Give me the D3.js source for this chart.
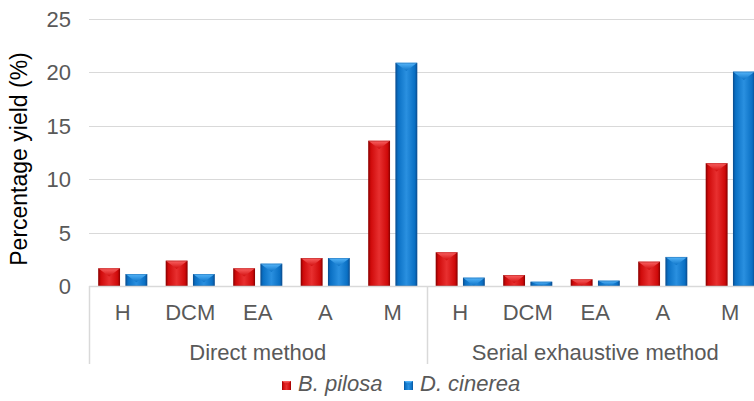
<!DOCTYPE html>
<html>
<head>
<meta charset="utf-8">
<script src="https://cdn.jsdelivr.net/npm/d3@7/dist/d3.min.js"></script>
<style>
  html, body { margin: 0; padding: 0; background: #fff; }
  svg { display: block; font-family: "Liberation Sans", Arial, sans-serif; }
</style>
</head>
<body>
<svg id="chart" width="754" height="401"></svg>
<script>
// Extraction yields by solvent, grouped by extraction procedure
const groups = ["Direct method", "Serial exhaustive method"];
const solvents = ["H", "DCM", "EA", "A", "M"];
const seriesNames = ["B. pilosa", "D. cinerea"];
const bPilosa = [1.66, 2.37, 1.66, 2.62, 13.6, 3.16, 1.03, 0.63, 2.28, 11.5];
const dCinerea = [1.12, 1.12, 2.09, 2.62, 20.9, 0.78, 0.40, 0.50, 2.72, 20.07];
const yTicks = [0, 5, 10, 15, 20, 25];

const svg = d3.select("#chart");
const W = 754;
const plotLeft = 89, plotRight = 764;
const y0 = 286, yTop = 19;
const fontSize = 22;

const cats = [];
groups.forEach((g, gi) => solvents.forEach(s => cats.push({ key: gi + "-" + s, group: g, gi, label: s })));

const x = d3.scaleBand().domain(cats.map(c => c.key)).range([plotLeft, plotRight]).paddingInner(0).paddingOuter(0);
const y = d3.scaleLinear().domain([0, 25]).range([y0, yTop]);
const sub = d3.scaleBand().domain(seriesNames).range([0, x.bandwidth()]).paddingInner(0.2).paddingOuter(0.34);

// gradients for the bevelled bars
const defs = svg.append("defs");
const palettes = {
  "B. pilosa": { dark: "#8e0000", mid: "#cf0a0a", light: "#e83030", cap: "#ff6a6a" },
  "D. cinerea": { dark: "#0b4f92", mid: "#0a70c4", light: "#2a90e0", cap: "#5cbcff" }
};
seriesNames.forEach((s, i) => {
  const p = palettes[s];
  const g = defs.append("linearGradient").attr("id", "g" + i).attr("x1", "0").attr("x2", "1").attr("y1", "0").attr("y2", "0");
  g.append("stop").attr("offset", "0").attr("stop-color", p.dark);
  g.append("stop").attr("offset", "0.12").attr("stop-color", p.mid);
  g.append("stop").attr("offset", "0.5").attr("stop-color", p.light);
  g.append("stop").attr("offset", "0.88").attr("stop-color", p.mid);
  g.append("stop").attr("offset", "1").attr("stop-color", p.dark);
  const c = defs.append("linearGradient").attr("id", "c" + i).attr("x1", "0").attr("x2", "0").attr("y1", "0").attr("y2", "1");
  c.append("stop").attr("offset", "0").attr("stop-color", p.cap);
  c.append("stop").attr("offset", "1").attr("stop-color", p.mid);
});

// horizontal gridlines
svg.append("g").selectAll("line").data(yTicks).join("line")
  .attr("x1", plotLeft).attr("x2", W)
  .attr("y1", d => Math.round(y(d)) + 0.5).attr("y2", d => Math.round(y(d)) + 0.5)
  .attr("stroke", "#d9d9d9").attr("stroke-width", 1);

// y axis labels
svg.append("g").selectAll("text").data(yTicks).join("text")
  .attr("x", 71).attr("y", d => y(d)).attr("dy", "0.36em")
  .attr("text-anchor", "end").attr("font-size", fontSize).attr("fill", "#595959")
  .text(d => d);

svg.append("text")
  .attr("transform", `translate(27,159) rotate(-90)`)
  .attr("text-anchor", "middle").attr("font-size", 23).attr("fill", "#000")
  .text("Percentage yield (%)");

// bars
const series = [bPilosa, dCinerea];
series.forEach((vals, si) => {
  const name = seriesNames[si];
  const g = svg.append("g");
  cats.forEach((c, ci) => {
    const bx = x(c.key) + sub(name);
    const bw = sub.bandwidth();
    const top = y(vals[ci]);
    const h = y0 - top;
    g.append("rect").attr("x", bx).attr("y", top).attr("width", bw).attr("height", h)
      .attr("fill", `url(#g${si})`);
    const capH = Math.min(bw * 0.38, h);
    g.append("path")
      .attr("d", `M${bx},${top} L${bx + bw},${top} L${bx + bw / 2},${top + capH} Z`)
      .attr("fill", `url(#c${si})`).attr("opacity", 0.9);
    g.append("rect").attr("x", bx + 0.5).attr("y", top + 0.5).attr("width", bw - 1).attr("height", Math.max(h - 1, 0))
      .attr("fill", "none").attr("stroke", palettes[name].dark).attr("stroke-opacity", 0.35);
  });
});

// category axis with group dividers
const axisCol = "#d9d9d9";
svg.append("line").attr("x1", plotLeft).attr("x2", W).attr("y1", y0 + 0.5).attr("y2", y0 + 0.5)
  .attr("stroke", axisCol).attr("stroke-width", 1.5);
groups.forEach((g, gi) => {
  const left = x(gi + "-" + solvents[0]);
  svg.append("line").attr("x1", Math.round(left) + 0.5).attr("x2", Math.round(left) + 0.5)
    .attr("y1", y0).attr("y2", 364).attr("stroke", axisCol).attr("stroke-width", 1.5);
});
svg.append("g").selectAll("text").data(cats).join("text")
  .attr("x", d => x(d.key) + x.bandwidth() / 2).attr("y", 320)
  .attr("text-anchor", "middle").attr("font-size", fontSize).attr("fill", "#595959")
  .text(d => d.label);
svg.append("g").selectAll("text").data(groups).join("text")
  .attr("x", (d, i) => {
    const a = x(i + "-" + solvents[0]);
    const b = x(i + "-" + solvents[solvents.length - 1]) + x.bandwidth();
    return (a + b) / 2;
  })
  .attr("y", 360).attr("text-anchor", "middle").attr("font-size", fontSize).attr("fill", "#595959")
  .text(d => d);

// legend
const legend = svg.append("g");
const legendItems = [{ name: "B. pilosa", x: 282 }, { name: "D. cinerea", x: 404 }];
legendItems.forEach((it, i) => {
  legend.append("rect").attr("x", it.x).attr("y", 381).attr("width", 9).attr("height", 9)
    .attr("fill", `url(#g${i})`);
  legend.append("path").attr("d", `M${it.x},381 L${it.x + 9},381 L${it.x + 4.5},384.5 Z`).attr("fill", `url(#c${i})`);
  legend.append("text").attr("x", it.x + 16).attr("y", 391)
    .attr("font-size", fontSize).attr("font-style", "italic").attr("fill", "#595959").text(it.name);
});
</script>
</body>
</html>
